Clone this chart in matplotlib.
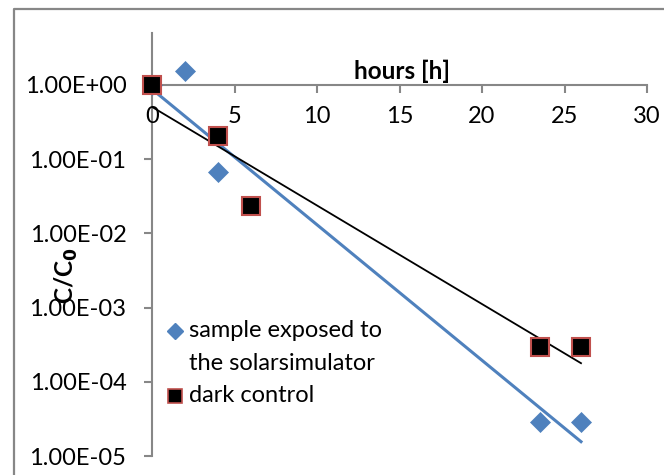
import matplotlib
matplotlib.use("Agg")
from matplotlib import pyplot as plt
from matplotlib.lines import Line2D

plt.rcParams['font.family'] = ['Lato', 'DejaVu Sans']

# data
hours_sample = [0, 2, 4, 23.5, 26]
conc_sample = [1.0, 1.55, 0.068, 2.9e-5, 2.9e-5]
hours_dark = [0, 4, 6, 23.5, 26]
conc_dark = [1.0, 0.205, 0.0234, 2.9e-4, 2.9e-4]

# exponential trendlines (end points)
trend_hours = [0, 26]
trend_sample = [0.875, 1.56e-5]
trend_dark = [0.505, 1.78e-4]

yticks = [1e0, 1e-1, 1e-2, 1e-3, 1e-4, 1e-5]
ytick_labels = ["1.00E+00", "1.00E-01", "1.00E-02", "1.00E-03", "1.00E-04", "1.00E-05"]
xticks = [0, 5, 10, 15, 20, 25, 30]

BLUE = '#4F81BD'
RED_EDGE = '#C0504D'
GREY = '#878787'
FS = 17

W, H = 664, 475
fig = plt.figure(figsize=(W / 100, H / 100), dpi=100)
ax = fig.add_axes([152 / W, 1 - 456 / H, (647 - 152) / W, (456 - 33) / H])

ax.set_yscale('log')
ax.set_xlim(0, 30)
ax.set_ylim(1e-5, 5.0)

ax.plot(trend_hours, trend_sample, color=BLUE, lw=2.2, zorder=2)
ax.plot(trend_hours, trend_dark, color='black', lw=1.3, zorder=2)
ax.plot(hours_sample, conc_sample, 'D', ms=10.5, color=BLUE, mec=BLUE, mew=0.5,
        ls='none', zorder=3, clip_on=False)
ax.plot(hours_dark, conc_dark, 's', ms=13, color='black', mec=RED_EDGE, mew=1.5,
        ls='none', zorder=4, clip_on=False)

# axes crossing at C/C0 = 1
for s in ['top', 'right']:
    ax.spines[s].set_visible(False)
ax.spines['bottom'].set_position(('data', 1.0))
for s in ['bottom', 'left']:
    ax.spines[s].set_color(GREY)
    ax.spines[s].set_linewidth(1.5)
    ax.spines[s].set_zorder(1)

ax.set_xticks(xticks)
ax.set_xticklabels([str(t) for t in xticks])
ax.set_yticks(yticks)
ax.set_yticklabels(ytick_labels)
ax.minorticks_off()
ax.tick_params(axis='x', direction='out', length=5.5, width=1.5, color=GREY,
               pad=10, labelsize=FS)
ax.tick_params(axis='y', direction='out', length=6, width=1.5, color=GREY,
               pad=12.5, labelsize=FS)

ax.annotate('hours [h]', xy=(0.5, 1.0), xycoords=('axes fraction', 'data'),
            xytext=(2, 4), textcoords='offset points', ha='center', va='baseline',
            fontsize=17.5, fontweight='bold')
fig.text(66 / W, 1 - 276 / H, r'C/C$_\mathbf{0}$', rotation=90, ha='center', va='center',
         fontsize=17.5, fontweight='bold')

# legend drawn by hand so the marker sits on the first text line
leg_x, text_x = 174.5 / W, 189 / W
fig.add_artist(Line2D([leg_x], [1 - 330.5 / H], marker='D', ms=8.5, color=BLUE,
                      transform=fig.transFigure))
fig.add_artist(Line2D([leg_x], [1 - 396 / H], marker='s', ms=10, color='black',
                      mec=RED_EDGE, mew=1.2, transform=fig.transFigure))
fig.text(text_x, 1 - 330.5 / H, 'sample exposed to', va='center', fontsize=FS)
fig.text(text_x, 1 - 363 / H, 'the solarsimulator', va='center', fontsize=FS)
fig.text(text_x, 1 - 396 / H, 'dark control', va='center', fontsize=FS)

# chart area border (left and top edges visible)
fig.add_artist(Line2D([14 / W, 14 / W, 1.0], [0.0, 1 - 9 / H, 1 - 9 / H],
                      color=GREY, lw=1.6, transform=fig.transFigure))

fig.savefig('out.png', dpi=100)
